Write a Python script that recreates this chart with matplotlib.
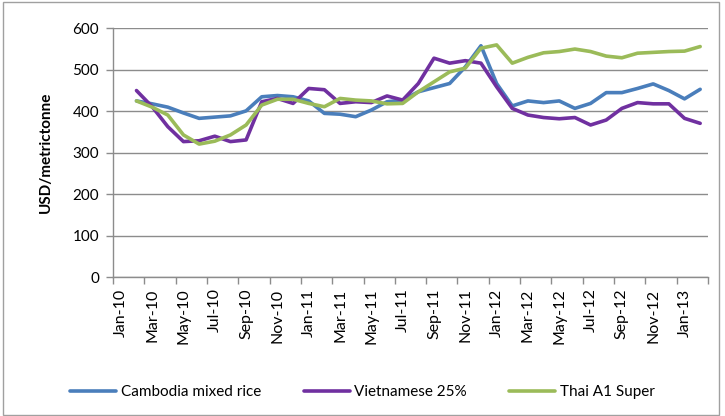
import numpy as np
import matplotlib
matplotlib.use("Agg")
import matplotlib.pyplot as plt
from matplotlib.patches import Rectangle

months = ["Jan-10","Feb-10","Mar-10","Apr-10","May-10","Jun-10","Jul-10","Aug-10","Sep-10","Oct-10","Nov-10","Dec-10",
          "Jan-11","Feb-11","Mar-11","Apr-11","May-11","Jun-11","Jul-11","Aug-11","Sep-11","Oct-11","Nov-11","Dec-11",
          "Jan-12","Feb-12","Mar-12","Apr-12","May-12","Jun-12","Jul-12","Aug-12","Sep-12","Oct-12","Nov-12","Dec-12",
          "Jan-13","Feb-13"]

cambodia = [np.nan, 425, 418, 410, 396, 383, 386, 389, 401, 435, 438, 435,
            425, 395, 393, 387, 403, 423, 427, 447, 457, 467, 507, 558,
            467, 413, 425, 421, 425, 407, 419, 445, 445, 455, 466, 450,
            430, 453]
vietnam = [np.nan, 450, 411, 363, 327, 329, 340, 327, 331, 423, 431, 419,
           455, 452, 419, 423, 421, 437, 427, 467, 528, 516, 522, 516,
           459, 407, 391, 385, 382, 385, 367, 379, 407, 421, 418, 418,
           383, 371]
thai = [np.nan, 425, 410, 391, 343, 321, 328, 343, 367, 415, 429, 429,
        419, 411, 431, 427, 425, 418, 419, 447, 471, 495, 504, 552,
        560, 516, 530, 541, 544, 550, 544, 533, 529, 540, 542, 544,
        545, 556]

series_names = ["Cambodia mixed rice", "Vietnamese 25%", "Thai A1 Super"]
colors = ["#4A7EBB", "#7030A0", "#9BBB59"]
yticks = [0, 100, 200, 300, 400, 500, 600]

plt.rcParams['font.family'] = ['Lato', 'DejaVu Sans']

fig = plt.figure(figsize=(7.25, 4.16), dpi=100)
ax = fig.add_axes([113/725, 1-277.3/416, (708-113)/725, (277.3-28.3)/416])

x = np.arange(len(months))
for vals, name, c in zip([cambodia, vietnam, thai], series_names, colors):
    ax.plot(x, vals, color=c, lw=2.6, label=name, solid_capstyle='round', solid_joinstyle='round')

ax.set_xlim(-0.5, len(months) - 0.5)
ax.set_ylim(0, 600)
ax.set_yticks(yticks)
ax.set_yticklabels([str(v) for v in yticks], fontsize=11)
ax.yaxis.grid(True, color="#8C8C8C", lw=1)
ax.set_axisbelow(True)

ax.set_xticks(x[::2])
ax.set_xticklabels(months[::2], rotation=90, fontsize=11.5)
ax.set_xticks(np.arange(-0.5, len(months), 2), minor=True)
ax.tick_params(axis='x', which='major', length=0, pad=8)
ax.tick_params(axis='x', which='minor', length=5, color="#8C8C8C", width=1, direction='out')
ax.tick_params(axis='y', length=5, color="#8C8C8C", width=1, pad=5)

for s in ['top', 'right']:
    ax.spines[s].set_visible(False)
for s in ['left', 'bottom']:
    ax.spines[s].set_color("#8C8C8C")
    ax.spines[s].set_linewidth(1)

ax.set_ylabel("USD/metrictonne", fontsize=11, fontweight='bold', labelpad=14)

fig.legend(loc='center', bbox_to_anchor=(0.5, 1-392/416), ncol=3, frameon=False,
           fontsize=11, handlelength=3, columnspacing=2.8, handletextpad=0.3)

fig.patches.append(Rectangle((3/725, 1/416), 716/725, 413/416, transform=fig.transFigure,
                             fill=False, edgecolor="#A0A0A0", lw=1))

fig.savefig("out.png", dpi=100)
